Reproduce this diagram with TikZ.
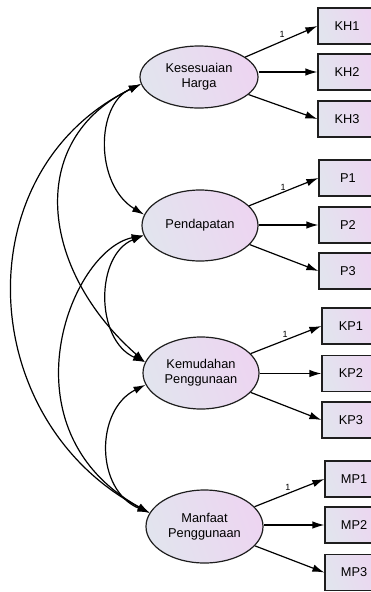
\documentclass[tikz,border=0pt]{standalone}
\usepackage{fontspec}
\setmainfont{Liberation Sans}
\usetikzlibrary{arrows.meta,shapes.geometric}
\definecolor{leftc}{RGB}{226,228,238}
\definecolor{rightc}{RGB}{237,213,241}
\definecolor{edgec}{RGB}{30,30,30}
\begin{document}
\begin{tikzpicture}[x=1pt,y=-1pt,
  every node/.style={font=\fontsize{12.8}{15}\selectfont},
  latent/.style={ellipse,draw=edgec,line width=1.2pt,left color=leftc,right color=rightc,shading angle=110,inner sep=0pt,align=center},
  observed/.style={rectangle,draw=edgec,line width=1.2pt,left color=leftc,right color=rightc,shading angle=110,minimum width=58pt,minimum height=36pt,inner sep=0pt},
  load/.style={-{Latex[length=12pt,width=7.5pt]},line width=1.2pt},
  cov/.style={{Latex[length=12pt,width=7.5pt]}-{Latex[length=12pt,width=7.5pt]},line width=1.2pt},
  one/.style={font=\fontsize{9}{10}\selectfont,inner sep=0pt}]
\useasboundingbox (0,0) rectangle (371,592);
% latent variables
\node[latent,minimum width=118pt,minimum height=62pt] (KH) at (199,77) {Kesesuaian\\Harga};
\node[latent,minimum width=116pt,minimum height=71pt] (P) at (200,225.5) {Pendapatan};
\node[latent,minimum width=116pt,minimum height=72pt] (KP) at (201,373) {Kemudahan\\Penggunaan};
\node[latent,minimum width=117pt,minimum height=73pt] (MP) at (204.5,526.5) {Manfaat\\Penggunaan};
% observed variables
\node[observed] (KH1) at (347,26) {KH1};
\node[observed] (KH2) at (347,72) {KH2};
\node[observed] (KH3) at (347,119) {KH3};
\node[observed] (P1) at (348,178) {P1};
\node[observed] (P2) at (348,225) {P2};
\node[observed] (P3) at (348,271) {P3};
\node[observed] (KP1) at (351,326) {KP1};
\node[observed] (KP2) at (351,373.5) {KP2};
\node[observed] (KP3) at (351,420) {KP3};
\node[observed] (MP1) at (354,479) {MP1};
\node[observed] (MP2) at (354,525) {MP2};
\node[observed] (MP3) at (354,572.5) {MP3};
% loadings
\draw[load] (KH) -- (KH1.west);
\draw[load] (KH2.west -| KH.east) -- (KH2.west);
\draw[load] (KH) -- (KH3.west);
\draw[load] (P) -- (P1.west);
\draw[load] (P2.west -| P.east) -- (P2.west);
\draw[load] (P) -- (P3.west);
\draw[load] (KP) -- (KP1.west);
\draw[load] (KP2.west -| KP.east) -- (KP2.west);
\draw[load] (KP) -- (KP3.west);
\draw[load] (MP) -- (MP1.west);
\draw[load] (MP2.west -| MP.east) -- (MP2.west);
\draw[load] (MP) -- (MP3.west);
\node[one] (l1) at (282,34) {1};
\node[one] (l2) at (283,187) {1};
\node[one] (l3) at (285,334) {1};
\node[one] (l4) at (288,487) {1};
% covariances
\draw[cov] (KH.187) .. controls (95,105) and (95,185) .. (P.169);
\draw[cov] (KH.187) .. controls (25,140) and (40,270) .. (KP.169);
\draw[cov] (KH.187) .. controls (-36,170) and (-26,420) .. (MP.166);
\draw[cov] (P.190) .. controls (95,255) and (95,340) .. (KP.169);
\draw[cov] (P.190) .. controls (70,250) and (0,430) .. (MP.166);
\draw[cov] (KP.192) .. controls (95,410) and (95,490) .. (MP.166);
\end{tikzpicture}
\end{document}
